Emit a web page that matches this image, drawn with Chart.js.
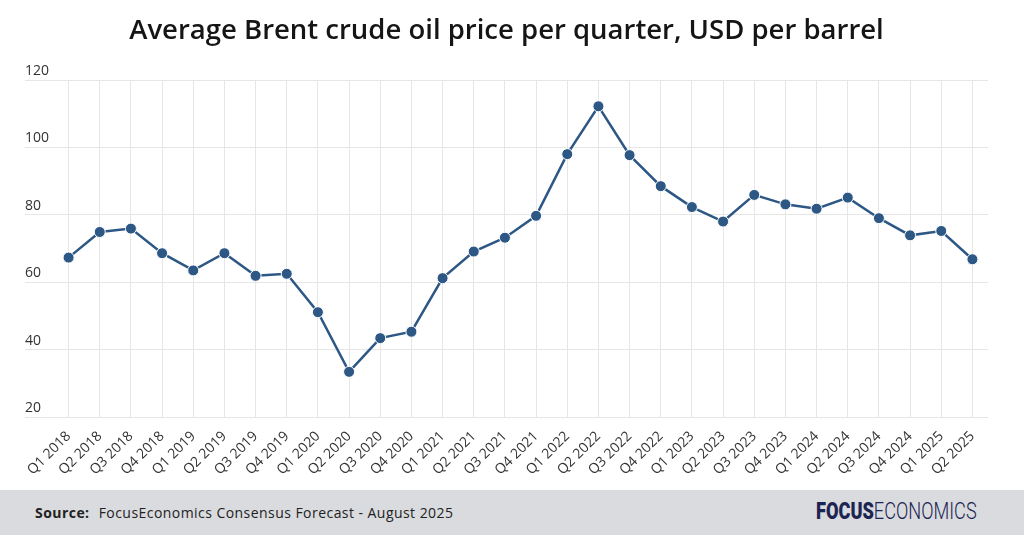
<!DOCTYPE html>
<html>
<head>
<meta charset="utf-8">
<script src="https://cdn.jsdelivr.net/npm/chart.js@4"></script>
<style>
  html, body { margin: 0; padding: 0; background: #fff; }
  body { width: 1024px; height: 535px; overflow: hidden; font-family: "Open Sans", sans-serif; }
  #wrap { position: relative; width: 1024px; height: 490px; }
  #footer {
    position: absolute; left: 0; top: 490px; width: 1024px; height: 45px;
    background: #d9dbde; color: #222; font-size: 14px;
  }
  #source { position: absolute; left: 35px; top: 13px; font-family: "Open Sans", sans-serif; letter-spacing: 0.45px; white-space: nowrap; }
  #source b { font-weight: 700; margin-right: 5px; }
  #logo {
    position: absolute; left: 816px; top: 8px; font-family: "Roboto", sans-serif;
    font-size: 23px; color: #1c2452; transform: scaleX(0.79); transform-origin: left top;
    white-space: nowrap;
  }
  #logo .bold { font-weight: 900; }
  #logo .thin { font-weight: 300; }
</style>
</head>
<body>
<div id="wrap"><canvas id="chart" width="1024" height="490"></canvas></div>
<div id="footer">
  <div id="source"><b>Source:</b> FocusEconomics Consensus Forecast - August 2025</div>
  <div id="logo"><span class="bold">FOCUS</span><span class="thin">ECONOMICS</span></div>
</div>
<script>
const quarters = [
  "Q1 2018","Q2 2018","Q3 2018","Q4 2018",
  "Q1 2019","Q2 2019","Q3 2019","Q4 2019",
  "Q1 2020","Q2 2020","Q3 2020","Q4 2020",
  "Q1 2021","Q2 2021","Q3 2021","Q4 2021",
  "Q1 2022","Q2 2022","Q3 2022","Q4 2022",
  "Q1 2023","Q2 2023","Q3 2023","Q4 2023",
  "Q1 2024","Q2 2024","Q3 2024","Q4 2024",
  "Q1 2025","Q2 2025"
];

const brentPrice = [
  67.3, 74.9, 75.9, 68.6,
  63.5, 68.6, 61.9, 62.5,
  51.1, 33.4, 43.4, 45.3,
  61.2, 69.1, 73.2, 79.7,
  98.0, 112.2, 97.7, 88.5,
  82.3, 78.0, 85.9, 83.1,
  81.8, 85.1, 79.0, 73.9,
  75.2, 66.8
];

const yTicks = [20, 40, 60, 80, 100, 120];

const lineColor = "#2d5784";
const gridColor = "#e6e6e6";
const textColor = "#333333";

const ctx = document.getElementById("chart").getContext("2d");

new Chart(ctx, {
  type: "line",
  data: {
    labels: quarters,
    datasets: [{
      label: "Brent",
      data: brentPrice,
      borderColor: lineColor,
      borderWidth: 2.5,
      backgroundColor: lineColor,
      pointBackgroundColor: lineColor,
      pointBorderColor: "#ffffff",
      pointBorderWidth: 1,
      pointRadius: 5.5,
      tension: 0
    }]
  },
  options: {
    responsive: false,
    animation: false,
    layout: { padding: { left: 25, right: 36, top: 0, bottom: 0 } },
    plugins: {
      legend: { display: false },
      tooltip: { enabled: false },
      title: {
        display: true,
        text: "Average Brent crude oil price per quarter, USD per barrel",
        color: "#151515",
        font: { family: "Open Sans", size: 27.5, weight: 550 },
        padding: { top: 15, bottom: 32 }
      }
    },
    scales: {
      x: {
        type: "category",
        offset: true,
        grid: { color: gridColor, offset: false, drawTicks: false },
        border: { display: false },
        ticks: {
          color: textColor,
          font: { family: "Open Sans", size: 14 },
          maxRotation: 45,
          minRotation: 45,
          autoSkip: false,
          padding: 11
        },
        afterFit: s => { s.height = 73; }
      },
      y: {
        min: 20,
        max: 120,
        afterBuildTicks: s => { s.ticks = yTicks.map(v => ({ value: v })); },
        grid: { color: gridColor, drawTicks: true, tickLength: 28 },
        border: { display: false },
        ticks: {
          color: textColor,
          font: { family: "Open Sans", size: 14 },
          crossAlign: "far",
          labelOffset: -9,
          padding: 0
        },
        afterFit: s => { s.width = 28; }
      }
    }
  }
});
</script>
</body>
</html>
